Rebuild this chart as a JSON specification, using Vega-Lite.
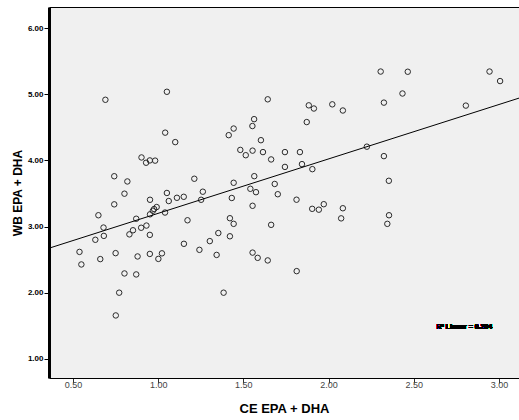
{
  "$schema": "https://vega.github.io/schema/vega-lite/v6.json",
  "width": 470,
  "height": 371,
  "autosize": {"type": "none"},
  "padding": {"left": 49, "top": 7, "right": 0, "bottom": 42},
  "background": "white",
  "config": {
    "view": {"fill": "#f0f0f0", "stroke": null},
    "font": "Liberation Sans"
  },
  "data": {
    "values": [
      {"ce": 2.306, "wb": 5.344}, {"ce": 2.465, "wb": 5.341}, {"ce": 2.945, "wb": 5.344}, {"ce": 3.007, "wb": 5.2},
      {"ce": 0.69, "wb": 4.917}, {"ce": 1.051, "wb": 5.038}, {"ce": 1.643, "wb": 4.924}, {"ce": 1.884, "wb": 4.833},
      {"ce": 1.914, "wb": 4.785}, {"ce": 2.022, "wb": 4.848}, {"ce": 2.084, "wb": 4.755}, {"ce": 2.325, "wb": 4.874},
      {"ce": 2.434, "wb": 5.012}, {"ce": 2.806, "wb": 4.829}, {"ce": 1.872, "wb": 4.58}, {"ce": 1.563, "wb": 4.624},
      {"ce": 1.553, "wb": 4.52}, {"ce": 1.041, "wb": 4.42}, {"ce": 1.443, "wb": 4.482}, {"ce": 1.414, "wb": 4.382},
      {"ce": 1.603, "wb": 4.306}, {"ce": 1.1, "wb": 4.277}, {"ce": 1.482, "wb": 4.159}, {"ce": 1.514, "wb": 4.079},
      {"ce": 1.554, "wb": 4.148}, {"ce": 1.615, "wb": 4.126}, {"ce": 1.744, "wb": 4.126}, {"ce": 1.832, "wb": 4.126},
      {"ce": 1.663, "wb": 4.015}, {"ce": 1.744, "wb": 3.902}, {"ce": 1.844, "wb": 3.944}, {"ce": 1.905, "wb": 3.868},
      {"ce": 2.225, "wb": 4.208}, {"ce": 2.325, "wb": 4.065}, {"ce": 2.354, "wb": 3.692}, {"ce": 2.355, "wb": 3.171},
      {"ce": 2.345, "wb": 3.041}, {"ce": 0.902, "wb": 4.045}, {"ce": 0.929, "wb": 3.965}, {"ce": 0.951, "wb": 4.0},
      {"ce": 0.982, "wb": 3.997}, {"ce": 0.742, "wb": 3.761}, {"ce": 0.819, "wb": 3.682}, {"ce": 0.802, "wb": 3.497},
      {"ce": 0.742, "wb": 3.336}, {"ce": 1.212, "wb": 3.723}, {"ce": 1.443, "wb": 3.662}, {"ce": 1.564, "wb": 3.762},
      {"ce": 1.684, "wb": 3.644}, {"ce": 1.051, "wb": 3.508}, {"ce": 1.11, "wb": 3.435}, {"ce": 1.15, "wb": 3.45},
      {"ce": 1.062, "wb": 3.386}, {"ce": 0.952, "wb": 3.405}, {"ce": 1.262, "wb": 3.527}, {"ce": 1.252, "wb": 3.405},
      {"ce": 1.432, "wb": 3.432}, {"ce": 1.541, "wb": 3.571}, {"ce": 1.574, "wb": 3.52}, {"ce": 1.702, "wb": 3.489},
      {"ce": 1.812, "wb": 3.406}, {"ce": 1.554, "wb": 3.314}, {"ce": 1.904, "wb": 3.268}, {"ce": 1.943, "wb": 3.255},
      {"ce": 1.972, "wb": 3.338}, {"ce": 2.084, "wb": 3.277}, {"ce": 2.074, "wb": 3.124}, {"ce": 0.991, "wb": 3.295},
      {"ce": 0.976, "wb": 3.265}, {"ce": 0.969, "wb": 3.239}, {"ce": 1.04, "wb": 3.212}, {"ce": 0.952, "wb": 3.185},
      {"ce": 0.649, "wb": 3.171}, {"ce": 0.871, "wb": 3.118}, {"ce": 1.172, "wb": 3.095}, {"ce": 1.421, "wb": 3.126},
      {"ce": 1.443, "wb": 3.041}, {"ce": 1.663, "wb": 3.026}, {"ce": 0.679, "wb": 2.985}, {"ce": 0.681, "wb": 2.859},
      {"ce": 0.631, "wb": 2.8}, {"ce": 0.852, "wb": 2.944}, {"ce": 0.831, "wb": 2.882}, {"ce": 0.9, "wb": 2.982},
      {"ce": 0.931, "wb": 3.015}, {"ce": 0.951, "wb": 2.874}, {"ce": 1.151, "wb": 2.739}, {"ce": 1.242, "wb": 2.648},
      {"ce": 1.303, "wb": 2.78}, {"ce": 1.353, "wb": 2.902}, {"ce": 1.421, "wb": 2.853}, {"ce": 0.538, "wb": 2.617},
      {"ce": 0.549, "wb": 2.427}, {"ce": 0.66, "wb": 2.508}, {"ce": 0.75, "wb": 2.598}, {"ce": 0.879, "wb": 2.548},
      {"ce": 0.951, "wb": 2.586}, {"ce": 1.022, "wb": 2.595}, {"ce": 1.001, "wb": 2.511}, {"ce": 1.343, "wb": 2.571},
      {"ce": 1.554, "wb": 2.606}, {"ce": 1.584, "wb": 2.527}, {"ce": 1.643, "wb": 2.488}, {"ce": 1.813, "wb": 2.326},
      {"ce": 0.802, "wb": 2.291}, {"ce": 0.871, "wb": 2.276}, {"ce": 0.771, "wb": 2.0}, {"ce": 1.384, "wb": 2.0},
      {"ce": 0.751, "wb": 1.656}
    ]
  },
  "layer": [
    {
      "mark": {"type": "point", "shape": "circle", "filled": false, "size": 30, "stroke": "#2a2a2a", "strokeWidth": 1, "opacity": 1},
      "encoding": {
        "x": {
          "field": "ce", "type": "quantitative",
          "scale": {"domain": [0.359, 3.118], "nice": false, "zero": false},
          "axis": {
            "values": [0.5, 1, 1.5, 2, 2.5, 3], "format": ".2f", "grid": false,
            "labelFontSize": 9, "labelColor": "#444444", "labelPadding": -3,
            "tickSize": 5, "tickColor": "#333333", "domainColor": "#000000", "domainWidth": 1,
            "title": "CE EPA + DHA", "titleFontSize": 13, "titleFontWeight": "bold", "titleColor": "#000000", "titlePadding": 13
          }
        },
        "y": {
          "field": "wb", "type": "quantitative",
          "scale": {"domain": [0.71, 6.32], "nice": false, "zero": false},
          "axis": {
            "values": [1, 2, 3, 4, 5, 6], "format": ".2f", "grid": false,
            "labelFontSize": 8, "labelFontWeight": "bold", "labelColor": "#000000", "labelPadding": 1,
            "tickSize": 5, "tickColor": "#000000", "domainColor": "#000000", "domainWidth": 3,
            "title": "WB EPA + DHA", "titleFontSize": 12, "titleFontWeight": "bold", "titleColor": "#000000", "titlePadding": 3
          }
        }
      }
    },
    {
      "transform": [{"regression": "wb", "on": "ce", "method": "linear", "extent": [0.359, 3.118]}],
      "mark": {"type": "line", "color": "#000000", "strokeWidth": 1, "clip": true},
      "encoding": {
        "x": {
          "field": "ce", "type": "quantitative",
          "scale": {"domain": [0.359, 3.118], "nice": false, "zero": false},
          "axis": {"orient": "top", "labels": false, "ticks": false, "grid": false, "title": null, "domainColor": "#000000", "domainWidth": 1}
        },
        "y": {"field": "wb", "type": "quantitative"}
      }
    },
    {
      "mark": {"type": "text", "text": "R² Linear = 0.204", "fontSize": 7, "fontWeight": "bold", "color": "#000000", "align": "center", "baseline": "middle"},
      "encoding": {
        "x": {"datum": 2.797, "type": "quantitative", "axis": null},
        "y": {"datum": 1.474, "type": "quantitative"}
      }
    }
  ],
  "resolve": {"axis": {"x": "independent"}}
}
